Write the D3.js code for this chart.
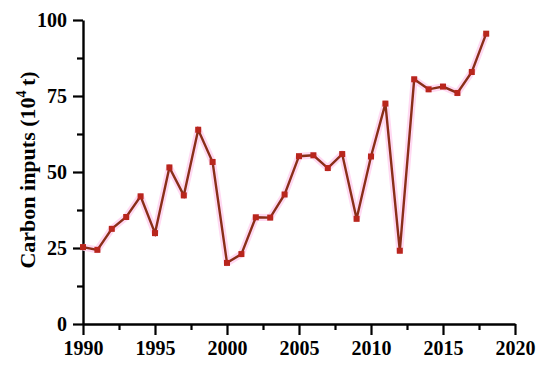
<!DOCTYPE html>
<html>
<head>
<meta charset="utf-8">
<script src="https://cdn.jsdelivr.net/npm/d3@7"></script>
<style>
  body { margin: 0; background: #fff; }
  svg text { font-family: "Liberation Serif", "Times New Roman", serif; font-weight: bold; fill: #000; }
</style>
</head>
<body>
<svg id="chart" width="550" height="373"></svg>
<script>
// carbon inputs per year (10^4 t)
var years = d3.range(1990, 2019);
var inputs = [25.3, 24.4, 31.3, 35.2, 42.0, 29.9, 51.5, 42.3, 63.9, 53.3,
              20.1, 23.0, 35.1, 35.0, 42.6, 55.2, 55.5, 51.3, 55.9, 34.6,
              55.1, 72.5, 24.1, 80.5, 77.2, 78.1, 76.0, 82.9, 95.5];
var xTicks = [1990, 1995, 2000, 2005, 2010, 2015, 2020];
var yTicks = [0, 25, 50, 75, 100];

var data = years.map(function(yr, i) { return {year: yr, value: inputs[i]}; });

var svg = d3.select("#chart");
var plotLeft = 83, plotRight = 515, plotTop = 20, plotBottom = 324;

var x = d3.scaleLinear().domain([1990, 2020]).range([plotLeft, plotRight]);
var y = d3.scaleLinear().domain([0, 100]).range([plotBottom, plotTop]);

// minor ticks first so major ones sit on top
svg.append("g")
    .attr("transform", "translate(0," + plotBottom + ")")
    .call(d3.axisBottom(x).tickValues(d3.range(1992.5, 2020, 5)).tickSize(6).tickFormat(""))
    .call(function(g) { g.select(".domain").remove(); })
    .selectAll("line").attr("stroke-width", 2.2);

svg.append("g")
    .attr("transform", "translate(" + plotLeft + ",0)")
    .call(d3.axisLeft(y).tickValues(d3.range(12.5, 100, 25)).tickSize(6).tickFormat(""))
    .call(function(g) { g.select(".domain").remove(); })
    .selectAll("line").attr("stroke-width", 2.2);

var xAxis = svg.append("g")
    .attr("transform", "translate(0," + plotBottom + ")")
    .call(d3.axisBottom(x).tickValues(xTicks).tickSize(11).tickSizeOuter(0).tickFormat(d3.format("d")).tickPadding(6));
xAxis.select(".domain").attr("stroke-width", 2.4);
xAxis.selectAll("line").attr("stroke-width", 2.2);
xAxis.selectAll("text").style("font-size", "20px");

var yAxis = svg.append("g")
    .attr("transform", "translate(" + plotLeft + ",0)")
    .call(d3.axisLeft(y).tickValues(yTicks).tickSize(10).tickSizeOuter(0).tickPadding(6));
yAxis.select(".domain").attr("stroke-width", 2.4);
yAxis.selectAll("line").attr("stroke-width", 2.2);
yAxis.selectAll("text").style("font-size", "20px");

// y title with superscript
var title = svg.append("text")
    .attr("transform", "translate(35,170) rotate(-90)")
    .attr("text-anchor", "middle")
    .style("font-size", "22px");
title.append("tspan").text("Carbon inputs (10");
title.append("tspan").attr("dy", -9).style("font-size", "14px").text("4");
title.append("tspan").attr("dy", 9).text("\u2009t)");

var line = d3.line()
    .x(function(d) { return x(d.year); })
    .y(function(d) { return y(d.value); });

// faint pink halo seen around the line in the original
svg.append("path")
    .datum(data)
    .attr("fill", "none")
    .attr("stroke", "#ffd9f2")
    .attr("stroke-width", 7)
    .attr("stroke-linejoin", "round")
    .attr("d", line);

svg.append("path")
    .datum(data)
    .attr("fill", "none")
    .attr("stroke", "#8a2e18")
    .attr("stroke-width", 2.4)
    .attr("d", line);

svg.selectAll("rect.pt")
    .data(data)
    .enter().append("rect")
    .attr("class", "pt")
    .attr("x", function(d) { return x(d.year) - 3; })
    .attr("y", function(d) { return y(d.value) - 3; })
    .attr("width", 6)
    .attr("height", 6)
    .attr("fill", "#b8261c");
</script>
</body>
</html>
